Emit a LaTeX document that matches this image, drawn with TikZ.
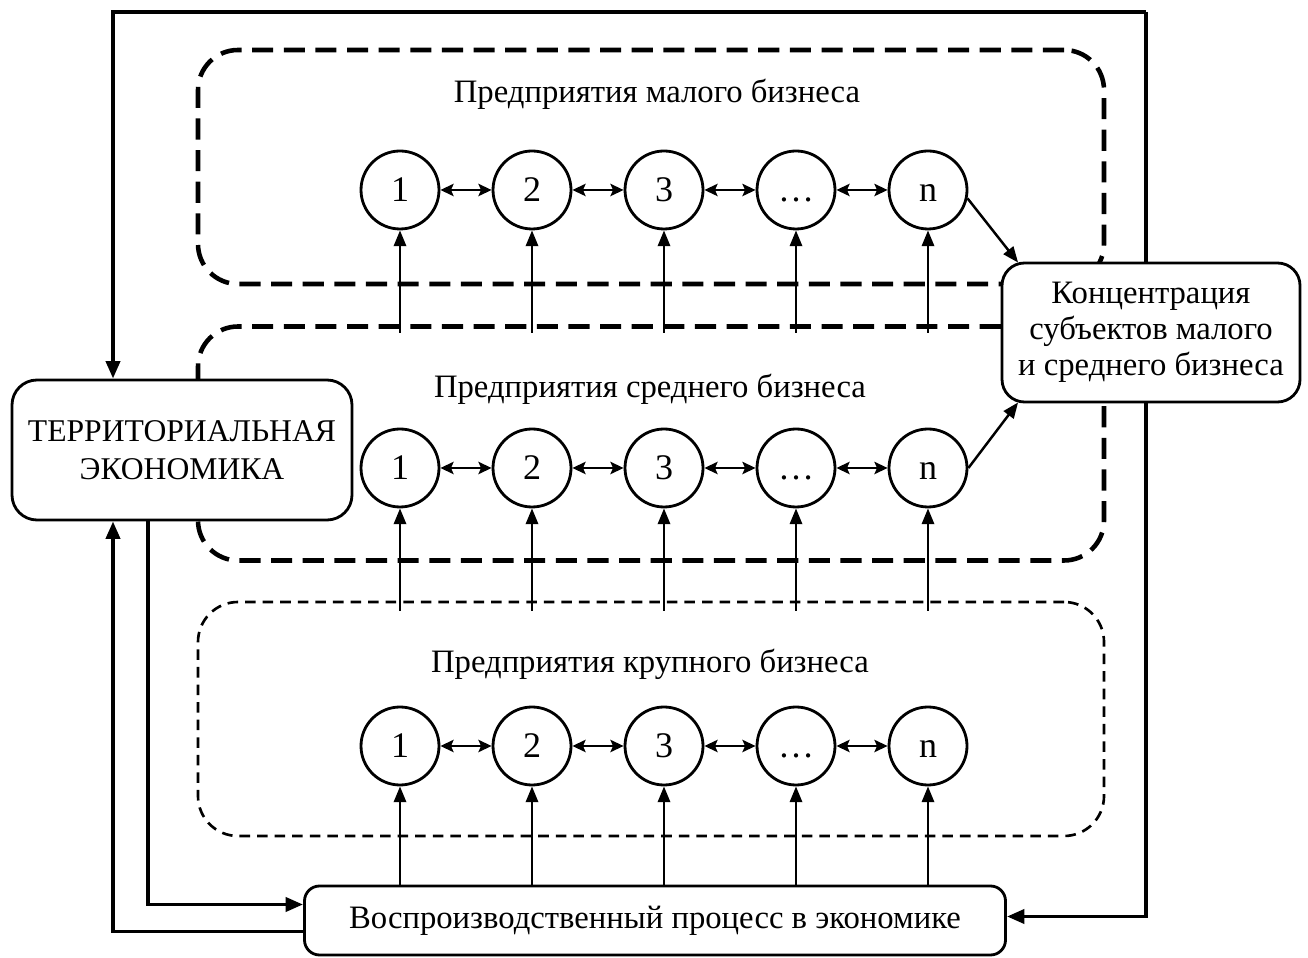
\documentclass[tikz,border=0pt]{standalone}
\usepackage{fontspec}
\setmainfont{Liberation Serif}
\usetikzlibrary{arrows.meta,positioning,backgrounds}

\begin{document}
\begin{tikzpicture}[
    font=\fontsize{18.6}{20.5}\selectfont,
    box/.style={draw,rectangle,line width=1.6pt,fill=white,align=center,inner sep=2pt},
    firm/.style={draw,circle,line width=1.6pt,minimum size=1.56cm,inner sep=0pt,font=\fontsize{20.5}{23}\selectfont,text height=13.6pt,text depth=0pt},
    group/.style={draw,rectangle,rounded corners=0.8cm,minimum width=18.12cm,minimum height=4.68cm},
    link/.style={{Stealth[length=7.5pt,width=7pt,inset=1.5pt]}-{Stealth[length=7.5pt,width=7pt,inset=1.5pt]},line width=1.3pt},
    feed/.style={-{Triangle[length=9pt,width=7pt]},line width=1.4pt},
    back/.style={-{Triangle[length=10pt,width=8pt]},line width=2.2pt},
]
    \useasboundingbox (0,0) rectangle (26.16,19.14);

    % Main blocks
    \node[box,rounded corners=0.5cm,minimum width=6.8cm,minimum height=2.8cm,font=\fontsize{18}{21.5}\selectfont] (terr) at (3.64,10.14) {ТЕРРИТОРИАЛЬНАЯ\\ЭКОНОМИКА};
    \node[box,rounded corners=0.45cm,minimum width=5.96cm,minimum height=2.78cm] (konc) at (23.02,12.49) {Концентрация\\субъектов малого\\и среднего бизнеса};
    \node[box,rounded corners=0.3cm,minimum width=14.02cm,minimum height=1.38cm] (vosp) at (13.1,0.73) {Воспроизводственный процесс в экономике};

    % Groups of enterprises and outer loop
    \coordinate (tl) at (2.26,18.9);
    \coordinate (tr) at (22.92,18.9);
    \coordinate (down) at (2.96,0);
    \begin{scope}[on background layer]
        \node[group,line width=2.6pt,dash pattern=on 12pt off 6pt] (small) at (13.02,15.8) {};
        \node[group,line width=2.6pt,dash pattern=on 12pt off 6pt] (medium) at (13.02,10.27) {};
        \node[group,line width=1.5pt,dash pattern=on 6pt off 4pt] (large) at (13.02,4.76) {};

        \draw[back] (tr) -- (tl) -- (tl |- terr.north);
        \draw[back] (tr) |- ([yshift=0.8mm]vosp.east);
        \draw[back] (terr.south -| down) |- ([yshift=3.2mm]vosp.west);
        \draw[back] ([yshift=-2.2mm]vosp.west) -| (terr.south -| tl);
    \end{scope}

    \node (smalltitle) at (13.14,17.25) {Предприятия малого бизнеса};
    \node (mediumtitle) at (13.0,11.36) {Предприятия среднего бизнеса};
    \node (largetitle) at (13.0,5.86) {Предприятия крупного бизнеса};

    % Enterprises
    \foreach \row/\y in {s/15.34,m/9.78,l/4.22} {
        \foreach \t [count=\i] in {1,2,3,…,n} {
            \node[firm] (\row\i) at ({8+2.64*(\i-1)},\y) {\t};
        }
        \foreach \i [evaluate=\i as \j using int(\i+1)] in {1,...,4} {
            \draw[link] (\row\i) -- (\row\j);
        }
    }

    % Arrows
    \coordinate (sfeed) at (0,12.48);
    \coordinate (mfeed) at (0,6.92);
    \foreach \i in {1,...,5} {
        \draw[feed] (s\i |- sfeed) -- (s\i);
        \draw[feed] (m\i |- mfeed) -- (m\i);
        \draw[feed] (l\i |- vosp.north) -- (l\i);
    }
    \draw[feed] (s5.-12) -- ([shift={(0.35,-0.02)}]konc.north west);
    \draw[feed] (m5.east) -- ([shift={(0.35,0.02)}]konc.south west);
\end{tikzpicture}
\end{document}
